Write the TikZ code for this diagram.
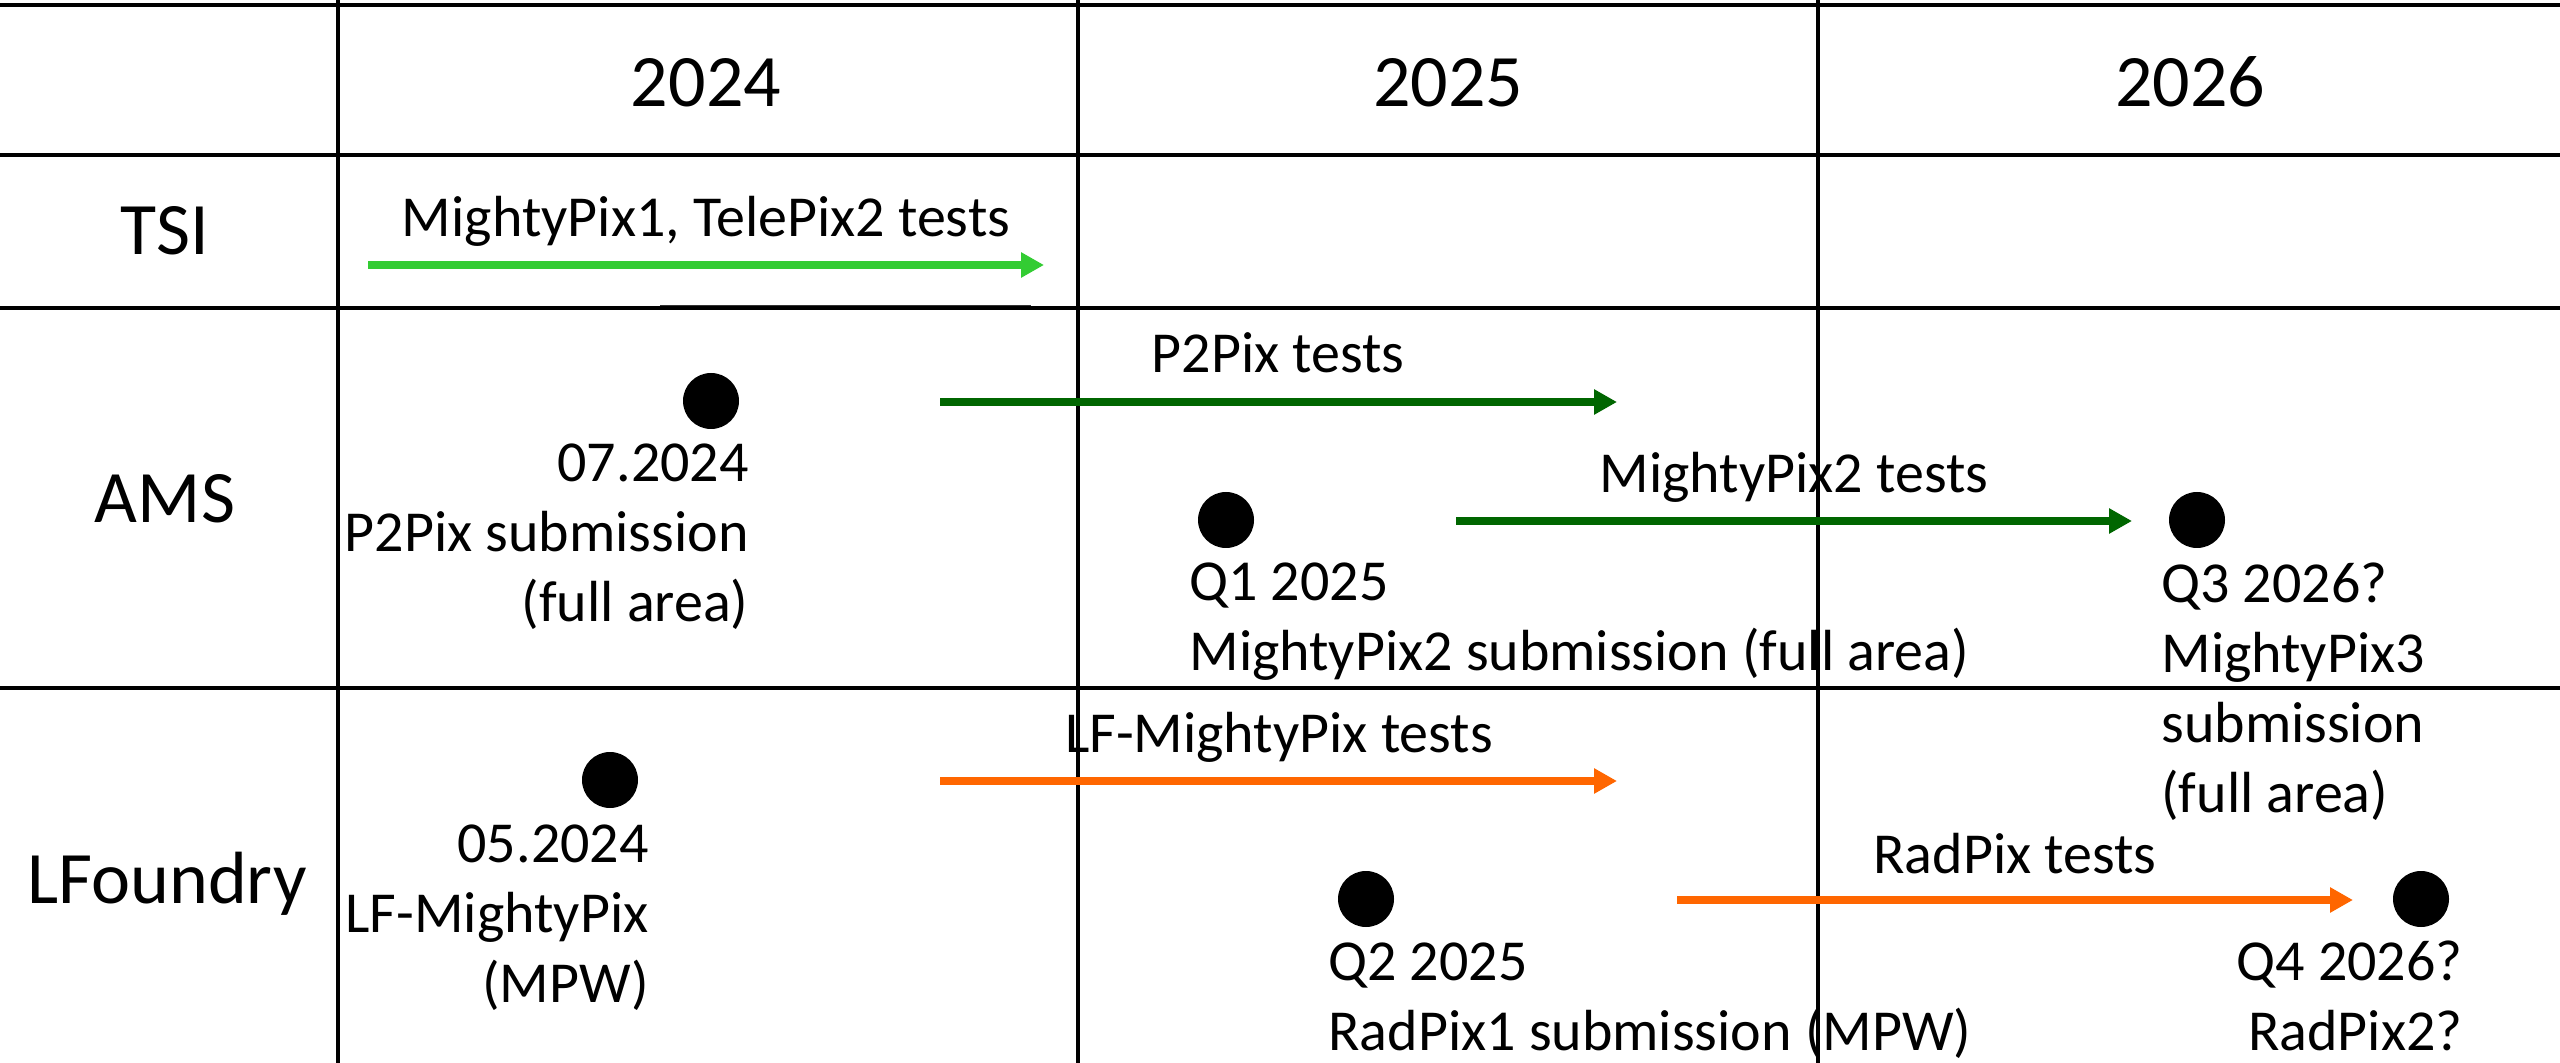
\documentclass[tikz,border=0pt]{standalone}
\usepackage{fontspec}
\setmainfont{Carlito}
\usetikzlibrary{arrows.meta}
\definecolor{limegr}{HTML}{33CC33}
\definecolor{darkgr}{HTML}{006600}
\definecolor{orng}{HTML}{FF6600}
\begin{document}
\begin{tikzpicture}[x=0.5pt,y=-0.5pt,
  gridline/.style={line width=1.6pt, black},
  hdr/.style={font=\fontsize{37}{44}\selectfont, inner sep=0pt, anchor=base},
  lbl/.style={font=\fontsize{29}{35}\selectfont, inner sep=0pt},
  milestone/.style={circle, fill=black, inner sep=0pt, minimum size=28pt},
  testarrow/.style={line width=4pt, -{Triangle[length=11.5pt,width=12pt]}}]
\fill[white] (0,0) rectangle (2560,1063);
\useasboundingbox (0,0) rectangle (2560,1063);
% grid
\draw[gridline] (0,5) -- (2560,5);
\draw[gridline] (0,155) -- (2560,155);
\draw[line width=1.2pt, black!80] (660,306) -- (1031,306);
\draw[gridline] (0,308) -- (2560,308);
\draw[gridline] (0,688) -- (2560,688);
\draw[gridline] (338,0) -- (338,1063);
\draw[gridline] (1078,0) -- (1078,1063);
\draw[gridline] (1818,0) -- (1818,1063);
% headers
\node[hdr] (y24) at (706,107) {2024};
\node[hdr] (y25) at (1448,107) {2025};
\node[hdr] (y26) at (2190,107) {2026};
\node[hdr] (tsi) at (165,255) {TSI};
\node[hdr] (ams) at (165,523) {AMS};
\node[hdr] (lfo) at (167,903) {LFoundry};
% TSI
\coordinate (t1s) at (368,265);
\coordinate (t1e) at (1044,265);
\draw[testarrow, limegr] (t1s) -- (t1e);
\node[lbl, anchor=base] (t1l) at (706,237) {MightyPix1, TelePix2 tests};
% AMS
\node[milestone] (d1) at (711,401) {};
\node[lbl, align=right, anchor=base east] (d1l) at (749,622) {07.2024\\P2Pix submission\\(full area)};
\coordinate (a1s) at (940,402);
\coordinate (a1e) at (1617,402);
\draw[testarrow, darkgr] (a1s) -- (a1e);
\node[lbl, anchor=base] (a1l) at (1278,373) {P2Pix tests};
\node[milestone] (d2) at (1226,520) {};
\node[lbl, align=left, anchor=base west] (d2l) at (1189,670) {Q1 2025\\MightyPix2 submission (full area)};
\node[milestone] (d3) at (2197,520) {};
\node[lbl, align=left, anchor=base west] (d3l) at (2161,812) {Q3 2026?\\MightyPix3\\submission\\(full area)};
\coordinate (a2s) at (1456,521);
\coordinate (a2e) at (2132,521);
\draw[testarrow, darkgr] (a2s) -- (a2e);
\node[lbl, anchor=base] (a2l) at (1794,493) {MightyPix2 tests};
% LFoundry
\node[milestone] (d4) at (610,780) {};
\node[lbl, align=right, anchor=base east] (d4l) at (649,1002) {05.2024\\LF-MightyPix\\(MPW)};
\coordinate (a3s) at (940,781);
\coordinate (a3e) at (1617,781);
\draw[testarrow, orng] (a3s) -- (a3e);
\node[lbl, anchor=base] (a3l) at (1279,752) {LF-MightyPix tests};
\node[milestone] (d5) at (1366,899) {};
\node[lbl, align=left, anchor=base west] (d5l) at (1328,1050) {Q2 2025\\RadPix1 submission (MPW)};
\node[milestone] (d6) at (2421,899) {};
\node[lbl, align=right, anchor=base east] (d6l) at (2463,1050) {Q4 2026?\\RadPix2?};
\coordinate (a4s) at (1677,900);
\coordinate (a4e) at (2353,900);
\draw[testarrow, orng] (a4s) -- (a4e);
\node[lbl, anchor=base] (a4l) at (2015,873) {RadPix tests};
\end{tikzpicture}
\end{document}
